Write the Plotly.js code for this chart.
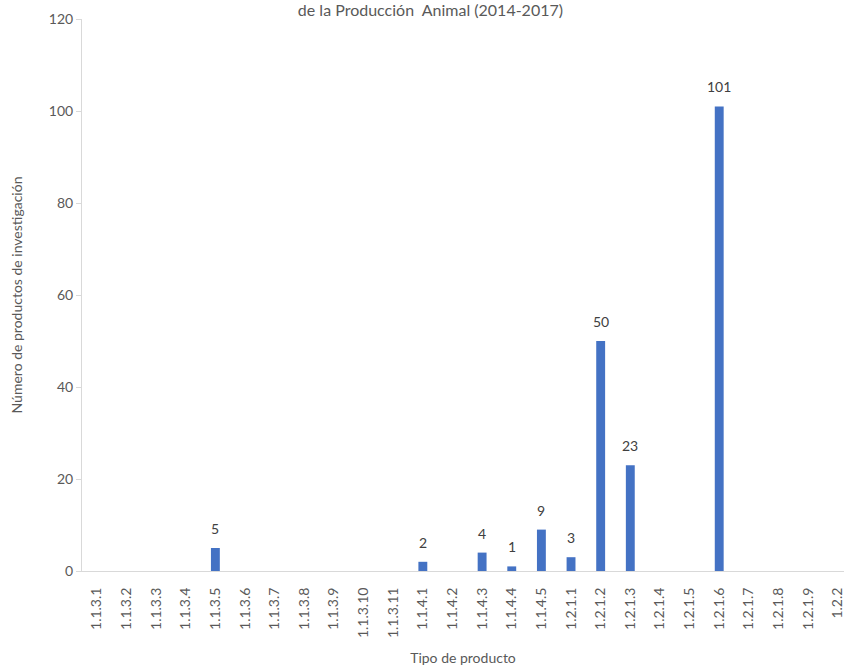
<!DOCTYPE html>
<html>
<head>
<meta charset="utf-8">
<script src="https://cdn.plot.ly/plotly-3.0.1.min.js"></script>
<style>html,body{margin:0;padding:0;background:#fff;}#chart{width:844px;height:667px;}</style>
</head>
<body>
<div id="chart"></div>
<script>
const categories = ["1.1.3.1","1.1.3.2","1.1.3.3","1.1.3.4","1.1.3.5","1.1.3.6","1.1.3.7","1.1.3.8","1.1.3.9","1.1.3.10","1.1.3.11","1.1.4.1","1.1.4.2","1.1.4.3","1.1.4.4","1.1.4.5","1.2.1.1","1.2.1.2","1.2.1.3","1.2.1.4","1.2.1.5","1.2.1.6","1.2.1.7","1.2.1.8","1.2.1.9","1.2.2"];
const values = [null,null,null,null,5,null,null,null,null,null,null,2,null,4,1,9,3,50,23,null,null,101,null,null,null,null];
const titleText = "de la Producción  Animal (2014-2017)";
const xTitle = "Tipo de producto";
const yTitle = "Número de productos de investigación";
const yTicks = [0,20,40,60,80,100,120];

const FONT = "Lato, 'Open Sans', sans-serif";
const trace = {
  type: "bar",
  x: categories,
  y: values,
  marker: {color: "#4472C4"},
  hoverinfo: "x+y"
};
const annotations = [];
categories.forEach((c, i) => {
  if (values[i] !== null) {
    annotations.push({
      x: c, y: values[i], xref: "x", yref: "y",
      text: String(values[i]), showarrow: false,
      yanchor: "bottom", yshift: 9,
      font: {family: FONT, size: 14, color: "#404040"}
    });
  }
});
const layout = {
  width: 844, height: 667,
  margin: {l: 82, r: 0, t: 19, b: 96, pad: 0},
  paper_bgcolor: "#fff", plot_bgcolor: "#fff",
  showlegend: false,
  bargap: 0.7,
  annotations: annotations,
  font: {family: FONT, color: "#595959", size: 14},
  title: {text: titleText, x: 0.51, xanchor: "center", y: 0.984, yanchor: "middle",
          font: {family: FONT, size: 16, color: "#595959"}},
  xaxis: {
    type: "category",
    categoryorder: "array", categoryarray: categories,
    range: [-0.5, 25.21],
    tickangle: -90,
    tickfont: {family: FONT, size: 14, color: "#595959"},
    showline: true, linecolor: "#d9d9d9", linewidth: 1,
    showgrid: false, zeroline: false,
    ticks: "", ticklabelstandoff: 10,
    title: {text: xTitle, font: {family: FONT, size: 14, color: "#595959"}, standoff: 16}
  },
  yaxis: {
    range: [0, 120],
    tickvals: yTicks,
    ticktext: yTicks.map(String),
    tickfont: {family: FONT, size: 14, color: "#595959"},
    showline: true, linecolor: "#d9d9d9", linewidth: 1,
    ticks: "outside", ticklen: 5, tickcolor: "#d9d9d9",
    showgrid: false, zeroline: false,
    title: {text: yTitle, font: {family: FONT, size: 14, color: "#595959"}, standoff: 22}
  }
};
Plotly.newPlot("chart", [trace], layout, {displayModeBar: false, staticPlot: true});
</script>
</body>
</html>
